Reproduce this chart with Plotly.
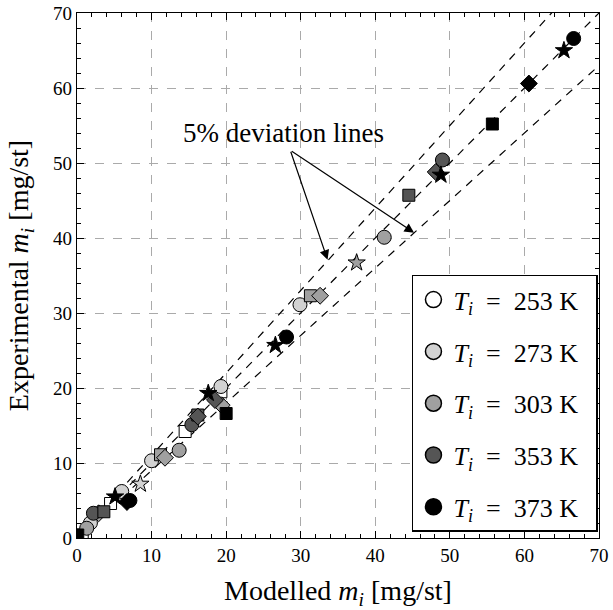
import plotly.graph_objects as go

# ---- data ----
temps = ["253", "273", "303", "353", "373"]
colors = ["#ffffff", "#d2d2d2", "#a0a0a0", "#555555", "#000000"]

x_253 = [0.7, 4.5, 14.5, 19.3]
y_253 = [0.4, 4.6, 14.2, 19.5]
s_253 = ["square", "square", "square", "square"]

x_273 = [1.8, 6.0, 8.5, 10.0, 19.3, 29.9]
y_273 = [2.0, 6.2, 7.2, 10.3, 20.2, 31.1]
s_273 = ["circle", "circle", "star", "circle", "circle", "circle"]

x_303 = [1.3, 2.9, 11.2, 11.8, 13.7, 19.4, 31.3, 32.6, 37.5, 41.2]
y_303 = [1.3, 3.3, 11.1, 10.7, 11.7, 17.7, 32.3, 32.3, 36.7, 40.1]
s_303 = ["circle", "diamond", "square", "diamond", "circle", "diamond",
         "square", "diamond", "star", "circle"]

x_353 = [2.2, 3.6, 15.4, 16.2, 16.2, 18.5, 44.5, 48.1, 49.0]
y_353 = [3.3, 3.5, 15.1, 16.4, 16.2, 18.4, 45.7, 48.8, 50.4]
s_353 = ["circle", "square", "circle", "square", "diamond", "diamond",
         "square", "diamond", "circle"]

x_373 = [0.1, 5.1, 6.7, 7.1, 17.6, 20.0, 26.6, 28.1, 48.8, 55.7, 60.6, 65.3, 66.6]
y_373 = [0.4, 5.5, 4.8, 5.0, 19.3, 16.6, 25.7, 26.8, 48.4, 55.2, 60.6, 65.0, 66.6]
s_373 = ["square", "star", "diamond", "circle", "star", "square", "star",
         "circle", "star", "square", "diamond", "star", "circle"]

series_x = [x_253, x_273, x_303, x_353, x_373]
series_y = [y_253, y_273, y_303, y_353, y_373]
series_s = [s_253, s_273, s_303, s_353, s_373]

deviation_ratios = [1.1, 1.0, 0.9]
line_x = [0, 70]

tick_vals = [0, 10, 20, 30, 40, 50, 60, 70]

note_text = "5% deviation lines"
note_pos = (27.7, 54.0)
arrow_tail = (28.6, 51.7)
arrow_heads = [(33.6, 37.1), (45.2, 40.7)]

size_map = {"circle": 14, "square": 12, "diamond": 13, "star": 13}

FONT = "Liberation Serif"

fig = go.Figure()

for r in deviation_ratios:
    fig.add_trace(go.Scatter(
        x=line_x, y=[v * r for v in line_x], mode="lines",
        line=dict(color="black", width=1.2, dash="8px,7px"),
        showlegend=False, hoverinfo="skip"))

for t, c, xs, ys, ss in zip(temps, colors, series_x, series_y, series_s):
    fig.add_trace(go.Scatter(
        x=xs, y=ys, mode="markers", showlegend=False,
        marker=dict(symbol=ss, size=[size_map[s] for s in ss], color=c,
                    opacity=1, line=dict(color="black", width=1))))

for i, (t, c) in enumerate(zip(temps, colors)):
    fig.add_trace(go.Scatter(
        x=[None], y=[None], mode="markers", legendgroup=t,
        name=f"<i>T</i><sub><i>i</i></sub>&nbsp;&nbsp;=&nbsp;&nbsp;{t} K&nbsp;&nbsp;",
        marker=dict(symbol="circle", size=20, color=c, opacity=1,
                    line=dict(color="black", width=1.5))))

fig.add_annotation(x=note_pos[0], y=note_pos[1], text=note_text,
                   showarrow=False, font=dict(family=FONT, size=27, color="black"))
for hx, hy in arrow_heads:
    fig.add_annotation(x=hx, y=hy, ax=arrow_tail[0], ay=arrow_tail[1],
                       xref="x", yref="y", axref="x", ayref="y", text="",
                       showarrow=True, arrowhead=2, arrowsize=1.6,
                       arrowwidth=1.2, arrowcolor="black")

axis_common = dict(
    range=[0, 70], tickvals=tick_vals, ticks="inside", ticklen=7,
    tickwidth=1, tickcolor="black", showline=True, linecolor="black",
    linewidth=1.2, mirror="ticks", showgrid=True, gridcolor="#aaaaaa",
    griddash="dash", gridwidth=1, zeroline=False, automargin=False,
    tickfont=dict(family=FONT, size=19, color="black"),
    minor=dict(dtick=2, ticks="inside", ticklen=4, tickcolor="black",
               showgrid=False),
)

fig.update_xaxes(**axis_common,
                 title=dict(text="Modelled <i>m</i><sub><i>i</i></sub> [mg/st]",
                            font=dict(family=FONT, size=28, color="black"),
                            standoff=18))
fig.update_yaxes(**axis_common,
                 title=dict(text="Experimental <i>m</i><sub><i>i</i></sub> [mg/st]",
                            font=dict(family=FONT, size=28, color="black"),
                            standoff=16))

fig.update_layout(
    width=613, height=610,
    margin=dict(l=77, r=14, t=13, b=72),
    plot_bgcolor="white", paper_bgcolor="white",
    legend=dict(x=0.998, y=0.012, xanchor="right", yanchor="bottom",
                bgcolor="white", bordercolor="black", borderwidth=1.5,
                font=dict(family=FONT, size=26, color="black"),
                tracegroupgap=15, itemsizing="trace"),
)

fig.write_html("out.html")
